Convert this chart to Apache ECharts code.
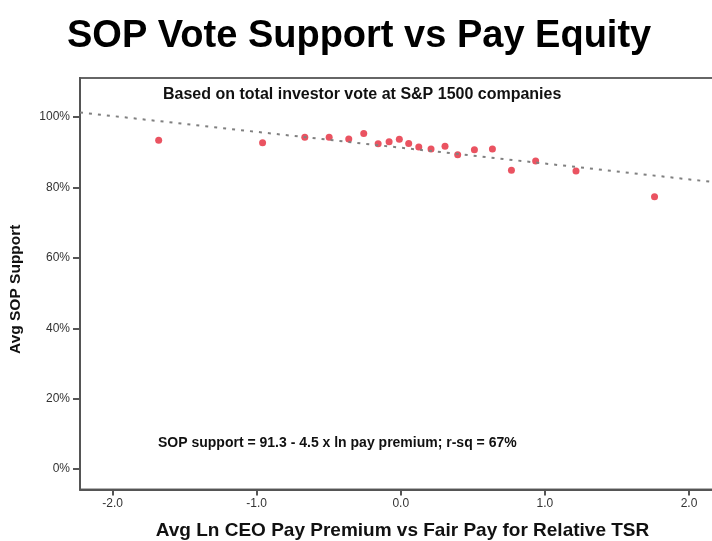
<!DOCTYPE html>
<html>
<head>
<meta charset="utf-8">
<script src="https://cdn.jsdelivr.net/npm/echarts@6/dist/echarts.min.js"></script>
<style>html,body{margin:0;padding:0;background:#fff}#c{width:712px;height:541px}</style>
</head>
<body>
<div id="c"></div>
<script>
// Avg Ln CEO pay premium (x) and Avg SOP support in % (y)
const payPremium = [-1.680, -0.959, -0.666, -0.497, -0.361, -0.257, -0.157, -0.081, -0.010, 0.055,
                    0.125, 0.210, 0.307, 0.395, 0.511, 0.636, 0.768, 0.936, 1.216, 1.761];
const sopSupport = [93.4, 92.7, 94.3, 94.3, 93.8, 95.3, 92.4, 93.0, 93.7, 92.5,
                    91.5, 90.9, 91.7, 89.3, 90.7, 90.9, 84.9, 87.5, 84.7, 77.4];
// Regression from the chart: SOP support = 91.3 - 4.5 x ln pay premium
const fitIntercept = 91.3;
const fitSlope = -4.5;
const xTicks = [-2, -1, 0, 1, 2];
const yTicks = [0, 20, 40, 60, 80, 100];
const xRange = [-2.226, 2.25];
const yRange = [-5.8, 111.1];

const FONT = "'Liberation Sans', Arial, sans-serif";
const points = payPremium.map((x, i) => [x, sopSupport[i]]);
const fitLine = xRange.map(x => [x, fitIntercept + fitSlope * x]);

const chart = echarts.init(document.getElementById('c'));
chart.setOption({
  animation: false,
  backgroundColor: '#fff',
  title: [
    { text: 'SOP Vote Support vs Pay Equity', left: 67, top: 18, padding: 0,
      textStyle: { fontFamily: FONT, fontSize: 38, fontWeight: 'bold', color: '#000' } },
    { text: 'Based on total investor vote at S&P 1500 companies', left: 163, top: 87, padding: 0,
      textStyle: { fontFamily: FONT, fontSize: 16, fontWeight: 'bold', color: '#111' } },
    { text: 'SOP support = 91.3 - 4.5 x ln pay premium; r-sq = 67%', left: 158, top: 436, padding: 0,
      textStyle: { fontFamily: FONT, fontSize: 14, fontWeight: 'bold', color: '#111' } }
  ],
  grid: { left: 80, top: 78, height: 411.5, width: 645, outerBoundsMode: 'none', containLabel: false,
    show: true, borderColor: '#666', borderWidth: 2 },
  xAxis: {
    type: 'value', min: xRange[0], max: xRange[1],
    name: 'Avg Ln CEO Pay Premium vs Fair Pay for Relative TSR',
    nameLocation: 'middle', nameGap: 32,
    nameTextStyle: { fontFamily: FONT, fontSize: 19, fontWeight: 'bold', color: '#111' },
    axisLine: { show: true, onZero: false, lineStyle: { color: '#555', width: 2 } },
    axisTick: { show: true, length: 6, customValues: xTicks, lineStyle: { color: '#555', width: 2 } },
    axisLabel: { customValues: xTicks, margin: 8, fontFamily: FONT, fontSize: 12, color: '#333',
      formatter: v => v.toFixed(1) },
    splitLine: { show: false }
  },
  yAxis: {
    type: 'value', min: yRange[0], max: yRange[1],
    name: 'Avg SOP Support', nameLocation: 'middle', nameGap: 56,
    nameTextStyle: { fontFamily: FONT, fontSize: 15.5, fontWeight: 'bold', color: '#111', padding: [0, 11, 0, 0] },
    axisLine: { show: true, onZero: false, lineStyle: { color: '#555', width: 2 } },
    axisTick: { show: true, length: 7, customValues: yTicks, lineStyle: { color: '#555', width: 2 } },
    axisLabel: { customValues: yTicks, margin: 10, fontFamily: FONT, fontSize: 12, color: '#333',
      formatter: v => Math.round(v) + '%' },
    splitLine: { show: false }
  },
  series: [
    { type: 'line', data: fitLine, symbol: 'none', silent: true,
      lineStyle: { color: '#808080', width: 2, type: [3, 6] } },
    { type: 'scatter', data: points, symbol: 'circle', symbolSize: 7,
      itemStyle: { color: '#e5283a' } }
  ]
});
</script>
</body>
</html>
